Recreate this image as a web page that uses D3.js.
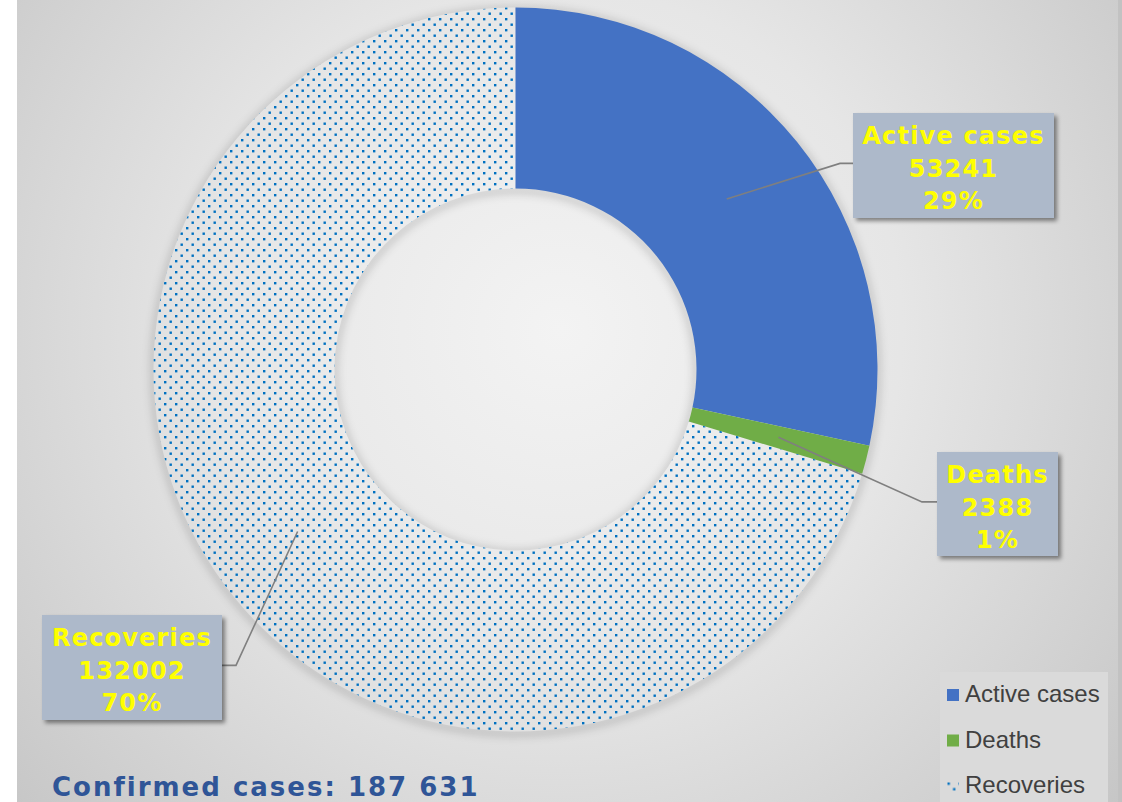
<!DOCTYPE html>
<html><head><meta charset="utf-8">
<script src="https://cdn.jsdelivr.net/npm/d3@7"></script>
<style>html,body{margin:0;padding:0;background:#fff;overflow:hidden}</style>
</head><body>
<svg id="chart" width="1122" height="802"></svg>
<script>
const categories = ["Active cases", "Deaths", "Recoveries"];
const values = [53241, 2388, 132002];
const percentLabels = ["29%", "1%", "70%"];
const titleText = "Confirmed cases: 187 631";

const colors = ["#4472C4", "#70AD47", "url(#dots)"];
const W = 1122, H = 802;
const cx = 515.5, cy = 369.5, rOuter = 362, rInner = 181;
const gx = 560, gy = 330, gr = 760;
// label box layout (left, top, width, height) and elbow offset for leader
const boxLayout = [
  {x: 853, y: 113, w: 201, h: 105, elbowDx: -13},
  {x: 937, y: 452, w: 121, h: 104, elbowDx: -15},
  {x: 42,  y: 615, w: 180, h: 105, elbowDx: 14}
];

const svg = d3.select("#chart");
const defs = svg.append("defs");
function makeGrad(id, ox, oy) {
  const bg = defs.append("radialGradient").attr("id",id)
    .attr("gradientUnits","userSpaceOnUse").attr("cx",gx-ox).attr("cy",gy-oy).attr("r",gr);
  bg.append("stop").attr("offset",0).attr("stop-color","#f3f3f3");
  bg.append("stop").attr("offset",0.45).attr("stop-color","#e6e6e6");
  bg.append("stop").attr("offset",1).attr("stop-color","#c4c4c4");
}
makeGrad("bgGrad", 0, 0);
makeGrad("bgGradLocal", cx, cy);

const pat = defs.append("pattern").attr("id","dots").attr("patternUnits","userSpaceOnUse")
  .attr("x",0.5).attr("y",0.5).attr("width",11).attr("height",11);
pat.append("rect").attr("x",0).attr("y",0).attr("width",2.4).attr("height",2.4).attr("fill","#0070C0");
pat.append("rect").attr("x",5.5).attr("y",5.5).attr("width",2.4).attr("height",2.4).attr("fill","#0070C0");

const sh = defs.append("filter").attr("id","boxShadow").attr("x","-20%").attr("y","-20%").attr("width","140%").attr("height","140%");
sh.append("feDropShadow").attr("dx",3).attr("dy",3).attr("stdDeviation",2.2)
  .attr("flood-color","#000").attr("flood-opacity",0.45);
const blur = defs.append("filter").attr("id","ringBlur").attr("x","-20%").attr("y","-20%").attr("width","140%").attr("height","140%");
blur.append("feGaussianBlur").attr("stdDeviation",4);

// background
svg.append("rect").attr("x",0).attr("y",0).attr("width",W).attr("height",H).attr("fill","#ffffff");
svg.append("rect").attr("x",17).attr("y",0).attr("width",1101).attr("height",H).attr("fill","url(#bgGrad)");
svg.append("rect").attr("x",1118).attr("y",0).attr("width",4).attr("height",H).attr("fill","#c2c2c2");

// ring shadow
const sg = svg.append("g").attr("filter","url(#ringBlur)");
sg.append("circle").attr("cx",cx).attr("cy",cy+2).attr("r",rOuter).attr("fill","none")
  .attr("stroke","#000").attr("stroke-opacity",0.18).attr("stroke-width",6);
sg.append("circle").attr("cx",cx).attr("cy",cy+2).attr("r",rInner).attr("fill","none")
  .attr("stroke","#000").attr("stroke-opacity",0.18).attr("stroke-width",6);

const pie = d3.pie().sort(null).value(d => d.v);
const data = categories.map((c,i) => ({c, v: values[i], p: percentLabels[i], i}));
const arcs = pie(data);
const arc = d3.arc().innerRadius(rInner).outerRadius(rOuter);

const g = svg.append("g").attr("transform",`translate(${cx},${cy})`);
// background-matching base under patterned slice (hides the ring shadow there)
g.selectAll("path.base").data(arcs.filter(a => a.data.i === 2)).join("path")
  .attr("class","base").attr("d",arc).attr("fill","url(#bgGradLocal)");
g.selectAll("path.slice").data(arcs).join("path").attr("class","slice")
  .attr("d",arc).attr("fill",d => colors[d.data.i]);

// leader lines + label boxes
arcs.forEach((a, i) => {
  const [mx, my] = arc.centroid(a);
  const sx = cx + mx, sy = cy + my;
  const b = boxLayout[i];
  const leftSide = b.elbowDx > 0;
  const ex = leftSide ? b.x + b.w : b.x;
  const ey = b.y + b.h * 0.48;
  svg.append("polyline")
    .attr("points", `${sx},${sy} ${ex + b.elbowDx},${ey} ${ex},${ey}`)
    .attr("fill","none").attr("stroke","#7f7f7f").attr("stroke-width",1.6);
  const bg2 = svg.append("g");
  bg2.append("rect").attr("x",b.x).attr("y",b.y).attr("width",b.w).attr("height",b.h)
    .attr("fill","#ADB9CA").attr("filter","url(#boxShadow)");
  const lines = [a.data.c, String(a.data.v), a.data.p];
  bg2.selectAll("text").data(lines).join("text")
    .attr("x", b.x + b.w/2).attr("y",(d,k) => b.y + 31 + k*32.5)
    .attr("text-anchor","middle").attr("fill","#FFFF00")
    .attr("font-family","'DejaVu Sans', Verdana, sans-serif").attr("font-weight","bold")
    .attr("font-size",24).attr("letter-spacing",1.2).text(d => d);
});

// legend
const lg = svg.append("g");
lg.append("rect").attr("x",940).attr("y",672).attr("width",168).attr("height",130).attr("fill","#dadada");
const items = lg.selectAll("g.item").data(categories).join("g").attr("class","item")
  .attr("transform",(d,i) => `translate(947,${702 + i*45.5})`);
items.append("rect").attr("x",0).attr("y",-13).attr("width",12).attr("height",12)
  .attr("fill",(d,i) => colors[i]);
items.append("text").attr("x",18).attr("y",0)
  .attr("font-family","'Liberation Sans', Arial, sans-serif").attr("font-size",24)
  .attr("fill","#404040").text(d => d);

// title
svg.append("text").attr("x",52).attr("y",796)
  .attr("font-family","'DejaVu Sans', Verdana, sans-serif").attr("font-weight","bold")
  .attr("font-size",26).attr("letter-spacing",2.0).attr("fill","#2F5597").text(titleText);
</script>
</body></html>
